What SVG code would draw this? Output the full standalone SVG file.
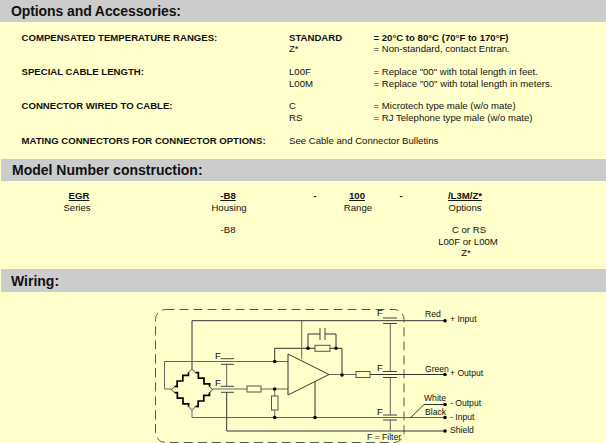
<svg xmlns="http://www.w3.org/2000/svg" width="606" height="443" viewBox="0 0 606 443">
<style>
text{font-family:"Liberation Sans",Arial,sans-serif;font-size:9.6px;fill:#111}
.h{font-size:14px;font-weight:bold;fill:#111}
.b{font-weight:bold}
.c{text-anchor:middle}
.u{text-decoration:underline;font-weight:bold}
.s{font-size:8.600px}
.bar{fill:#ccc}
.w{fill:none;stroke:#333;stroke-width:1}
.g{fill:none;stroke:#666;stroke-width:1}
.r{fill:#ffc;stroke:#555;stroke-width:1}
.p{fill:none;stroke:#444;stroke-width:1}
.z{fill:none;stroke:#000;stroke-width:1.700}
.d{fill:#000}
</style>
<defs>
<g id="leg"><path class="g" d="M0 0H5M24.700 0H29.700"/><path class="z" d="M5 0l2 -2 4 4 4 -4 4 4 4 -4 1.700 2"/></g>
<circle id="dot" r="1.800" class="d"/>
</defs>
<rect width="606" height="443" fill="#ffc"/>
<rect class="bar" x="0" y="0" width="606" height="22"/>
<rect class="bar" x="1" y="159" width="605" height="22"/>
<rect class="bar" x="1" y="269" width="605" height="23"/>
<text class="h" x="11" y="15.500" textLength="170">Options and Accessories:</text>
<text class="h" x="12" y="175">Model Number construction:</text>
<text class="h" x="11" y="286">Wiring:</text>

<g id="options">
<text class="b" x="21.500" y="41">COMPENSATED TEMPERATURE RANGES:</text>
<text class="b" x="289" y="41">STANDARD</text>
<text class="b" x="373.500" y="41">= 20°C to 80°C (70°F to 170°F)</text>
<text x="289" y="52">Z*</text>
<text x="373.500" y="52">= Non-standard, contact Entran.</text>
<text class="b" x="21.500" y="75">SPECIAL CABLE LENGTH:</text>
<text x="289" y="75">L00F</text>
<text x="373.500" y="75">= Replace "00" with total length in feet.</text>
<text x="289" y="87">L00M</text>
<text x="373.500" y="87" textLength="179">= Replace "00" with total length in meters.</text>
<text class="b" x="21.500" y="109">CONNECTOR WIRED TO CABLE:</text>
<text x="289" y="109">C</text>
<text x="373.500" y="109">= Microtech type male (w/o mate)</text>
<text x="289" y="121">RS</text>
<text x="373.500" y="121">= RJ Telephone type male (w/o mate)</text>
<text class="b" x="21.500" y="144">MATING CONNECTORS FOR CONNECTOR OPTIONS:</text>
<text x="289" y="144">See Cable and Connector Bulletins</text>
</g>

<g id="model">
<text class="c u" x="79" y="199">EGR</text>
<text class="c" x="77" y="211">Series</text>
<text class="c u" x="228" y="199">-B8</text>
<text class="c" x="229" y="211">Housing</text>
<text class="c b" x="315" y="199">-</text>
<text class="c u" x="357" y="199">100</text>
<text class="c" x="358" y="211">Range</text>
<text class="c b" x="401" y="199">-</text>
<text class="c u" x="465" y="199">/L3M/Z*</text>
<text class="c" x="465" y="211">Options</text>
<text class="c" x="228" y="233">-B8</text>
<text class="c" x="469" y="233">C or RS</text>
<text class="c" x="468" y="245">L00F or L00M</text>
<text class="c" x="466" y="256">Z*</text>
</g>

<rect id="enclosure" x="155.500" y="309.500" width="248.500" height="133" rx="10" fill="none" stroke="#555" stroke-dasharray="9 5"/>

<g id="connectors">
<path class="w" d="M192 369V320.700H445"/>
<path class="g" d="M171 389H164.500V361.500H288"/>
<path class="w" d="M274.700 361.500V348.300H315M330 348.300H342V375"/>
<path class="w" d="M308 348.300V334H320M325 334H336V348.300"/>
<path class="g" d="M213 389H247M261 389H288"/>
<path class="g" d="M274.700 389V396M274.700 410V417.500"/>
<path class="g" d="M192 410V417.500H445"/>
<path class="g" d="M301.700 320.700V359"/>
<path class="w" d="M315 417.500V380"/>
<path class="w" d="M226.700 392.300V431H445"/>
<path class="g" d="M226.700 364.300V386.300"/>
<path class="g" d="M329 374.500H356"/>
<path class="w" d="M370 374.500H445"/>
<path class="g" d="M390.300 323.500V371.500M390.300 377.500V415M390.300 420V431"/>
<path class="w" d="M410.700 417.500L424 404.500H445"/>
</g>

<g id="bridge">
<use href="#leg" transform="translate(192 369) rotate(135)"/>
<use href="#leg" transform="translate(192 369) rotate(45)"/>
<use href="#leg" transform="translate(171 389) rotate(45)"/>
<use href="#leg" transform="translate(213 389) rotate(135)"/>
</g>
<g id="opamp"><path d="M288 354V395L329 374.500Z" fill="#ffc" stroke="#333"/></g>
<g id="resistors">
<rect class="r" x="315" y="345.300" width="15" height="6"/>
<rect class="r" x="247" y="386" width="14" height="6"/>
<rect class="r" x="271.500" y="396" width="6.500" height="14"/>
<rect class="r" x="356" y="371.500" width="14" height="6"/>
</g>
<g id="capacitors">
<path class="p" d="M320 328V340M325 328V340"/>
<path class="p" d="M220.700 358.700H234M221 364.300H234M220.700 386.300H234M221 392.300H234"/>
<path class="p" d="M383 318H397M383 323.500H397M383 371.500H397M383 377.500H397M383 415H397M383 420H397"/>
</g>
<g id="dots">
<use href="#dot" x="274.700" y="361.500"/>
<use href="#dot" x="308" y="348.300"/>
<use href="#dot" x="336" y="348.300"/>
<use href="#dot" x="342" y="375"/>
<use href="#dot" x="274.700" y="389"/>
<use href="#dot" x="274.700" y="417.500"/>
<use href="#dot" x="315" y="417.500"/>
<use href="#dot" x="445" y="320.700"/>
<use href="#dot" x="445" y="374.500"/>
<use href="#dot" x="445" y="404.500"/>
<use href="#dot" x="445" y="417.500"/>
<use href="#dot" x="445" y="431"/>
</g>
<g id="labels">
<text x="215" y="359">F</text>
<text x="215" y="386">F</text>
<text x="377" y="316">F</text>
<text x="377" y="371">F</text>
<text x="377" y="415">F</text>
<text class="s" x="367" y="440">F = Filter</text>
<text class="s" x="425" y="317">Red</text>
<text class="s" x="425" y="371.500">Green</text>
<text class="s" x="424" y="401">White</text>
<text class="s" x="425" y="415">Black</text>
<text class="s" x="450" y="322">+ Input</text>
<text class="s" x="450" y="376">+ Output</text>
<text class="s" x="450" y="405.500">- Output</text>
<text class="s" x="450" y="419.500">- Input</text>
<text class="s" x="450" y="432.500">Shield</text>
</g>
</svg>
